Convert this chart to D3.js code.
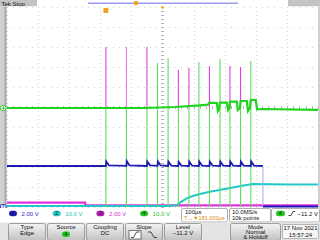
<!DOCTYPE html>
<html>
<head>
<meta charset="utf-8">
<script src="https://cdn.jsdelivr.net/npm/d3@7"></script>
<style>
body { margin: 0; background: #fff; overflow: hidden; }
svg { display: block; font-family: "Liberation Sans", "DejaVu Sans", sans-serif; }
</style>
</head>
<body>
<svg id="scope" width="320" height="240"></svg>
<script>

// time across the screen in µs (100 µs/div), levels in divisions above the bottom line
const pulse_times = [318, 384, 450, 484, 518, 551, 585, 617, 651, 685, 717, 751, 784]
const green_tops  = [null, null, null, 7.2, 7.45, null, null, 7.25, null, 7.4, null, null, 7.3]
const pink_tops   = [8.0, 8.0, 8.0, null, null, 6.85, 6.95, null, 7.05, null, 7.05, 7.0, null]

const ch4_trace = [[0,4.95],[444,4.95],[540,5.0],[620,5.08],[646,5.12],[651,5.22],[675,5.2],[678,4.8],
    [682,4.9],[685,5.22],[707,5.22],[711,4.85],[715,4.95],[717,5.27],[739,5.27],[742,4.85],[749,4.95],
    [751,5.3],[771,5.3],[775,4.8],[781,4.95],[784,5.35],[800,5.35],[804,4.88],[820,4.9],[1000,4.86]]

const ch1_trace = [[0,2.05],[318,2.05],[319,2.28],[328,2.08],[384,2.06],[385,2.3],[394,2.08],[450,2.05],
    [451,2.27],[460,2.08],[484,2.06],[485,2.28],[494,2.08],[518,2.05],[519,2.27],[528,2.07],[551,2.05],
    [552,2.25],[561,2.07],[585,2.05],[586,2.27],[595,2.07],[617,2.05],[618,2.28],[627,2.07],[651,2.05],
    [652,2.27],[661,2.07],[685,2.05],[686,2.27],[695,2.07],[717,2.05],[718,2.27],[727,2.07],[751,2.05],
    [752,2.27],[761,2.07],[784,2.05],[785,2.28],[794,2.07],[823,2.05]]
const ch1_after = [[823,0.03],[1000,0.03]]

const ch2_trace = [[0,0.05],[524,0.05],[546,0.1],[562,0.28],[578,0.43],[600,0.56],[621,0.65],[648,0.75],
    [674,0.82],[700,0.9],[727,0.98],[755,1.06],[781,1.13],[791,1.15],[900,1.13],[1000,1.12]]

const ch3_trace = [[0,0.22],[251,0.22],[252,0.08],[1000,0.08]]

const channels = [
    {num: "1", scale: "2.00 V", color: "#1c1cb4", text: "#2a2ac0"},
    {num: "2", scale: "10.0 V", color: "#22c8c8", text: "#22c0c0"},
    {num: "3", scale: "2.00 V", color: "#b020b0", text: "#d030d0"},
    {num: "4", scale: "10.0 V", color: "#1ec81e", text: "#1ec01e"}
]

const menu_buttons = [
    {x: 8, w: 38, lines: ["Type", "Edge"]},
    {x: 47, w: 38, lines: ["Source"]},
    {x: 86, w: 38, lines: ["Coupling", "DC"]},
    {x: 125, w: 38, lines: ["Slope"]},
    {x: 164, w: 38, lines: ["Level", "\u221211.2 V"]},
    {x: 230, w: 51, lines: ["Mode", "Normal", "& Holdoff"]}
]

const svg = d3.select("#scope")

const x = d3.scaleLinear().domain([0, 1000]).range([7, 318])
const y = d3.scaleLinear().domain([0, 10]).range([207, 7])

const line = d3.line().x(d => x(d[0])).y(d => y(d[1]))

// ---- top bar
svg.append("rect").attr("x", 0).attr("y", 0).attr("width", 320).attr("height", 6.5).attr("fill", "#fff")
svg.append("rect").attr("x", 0).attr("y", 0).attr("width", 37).attr("height", 6.5).attr("fill", "#c4c4c4")
svg.append("rect").attr("x", 288).attr("y", 0).attr("width", 32).attr("height", 6.5).attr("fill", "#c4c4c4")
svg.append("text").attr("x", 1.5).attr("y", 5.6).attr("font-size", 6).attr("fill", "#111")
    .text("Tek Stop")
svg.append("line").attr("x1", 88).attr("x2", 238).attr("y1", 3.2).attr("y2", 3.2)
    .attr("stroke", "#9c9cf0").attr("stroke-width", 1.4)
svg.append("rect").attr("x", 134).attr("y", 1).attr("width", 4).attr("height", 4).attr("rx", 1).attr("fill", "#f0a020")

// ---- graticule
svg.append("rect").attr("x", 7).attr("y", 6.5).attr("width", 311).attr("height", 201).attr("fill", "#fff")
svg.append("rect").attr("x", 0).attr("y", 6.5).attr("width", 6.5).attr("height", 202).attr("fill", "#cfcfcf")
svg.append("rect").attr("x", 4.5).attr("y", 6.5).attr("width", 2).attr("height", 202).attr("fill", "#a8a8a8")
svg.append("rect").attr("x", 318).attr("y", 6.5).attr("width", 2).attr("height", 202).attr("fill", "#cfcfcf")

const grid = svg.append("g").attr("id", "grid").attr("shape-rendering", "crispEdges")
d3.range(0, 11).forEach(i => {
    let gx = Math.round(x(i * 100)) + 0.5
    grid.append("line").attr("x1", gx).attr("x2", gx).attr("y1", y(10)).attr("y2", y(0))
        .attr("stroke", i == 5 ? "#b4b4b4" : "#d2d2d2").attr("stroke-width", 1).attr("stroke-dasharray", "1,3")
    let gy = Math.round(y(i)) + 0.5
    grid.append("line").attr("y1", gy).attr("y2", gy).attr("x1", x(0)).attr("x2", x(1000))
        .attr("stroke", i == 5 ? "#b4b4b4" : "#d2d2d2").attr("stroke-width", 1).attr("stroke-dasharray", "1,5.22")
})
// centre cross ticks
d3.range(0, 51).forEach(i => {
    let tx = Math.round(x(i * 20)) + 0.5
    grid.append("line").attr("x1", tx).attr("x2", tx).attr("y1", y(5) - 1.5).attr("y2", y(5) + 1.5)
        .attr("stroke", "#b4b4b4")
    let ty = Math.round(y(i * 0.2)) + 0.5
    grid.append("line").attr("y1", ty).attr("y2", ty).attr("x1", x(500) - 1.5).attr("x2", x(500) + 1.5)
        .attr("stroke", "#b4b4b4")
})

// ---- traces
const traces = svg.append("g").attr("id", "traces")

traces.append("path").datum(ch3_trace).attr("d", line)
    .attr("fill", "none").attr("stroke", "#e030e0").attr("stroke-width", 2.2)

// magenta spikes only show above the green baseline
pulse_times.forEach((t, i) => {
    if (pink_tops[i] !== null) {
        traces.append("line").attr("x1", x(t)).attr("x2", x(t)).attr("y1", y(4.95)).attr("y2", y(pink_tops[i]))
            .attr("stroke", i == 1 ? "#f07cf0" : "#e040e0").attr("stroke-width", 1.1)
    }
})

traces.append("path").datum(ch2_trace).attr("d", line)
    .attr("fill", "none").attr("stroke", "#22c8c8").attr("stroke-width", 2)

pulse_times.forEach((t, i) => {
    let top = green_tops[i] !== null ? green_tops[i] : 4.95
    traces.append("line").attr("x1", x(t)).attr("x2", x(t)).attr("y1", y(0)).attr("y2", y(top))
        .attr("stroke", "#5edc5e").attr("stroke-width", 1.1)
})

traces.append("path").datum(ch4_trace).attr("d", line)
    .attr("fill", "none").attr("stroke", "#1ed41e").attr("stroke-width", 2.2)

traces.append("path").datum(ch1_trace).attr("d", line)
    .attr("fill", "none").attr("stroke", "#1c1cb4").attr("stroke-width", 1.8)
traces.append("line").attr("x1", x(823)).attr("x2", x(823)).attr("y1", y(2.05)).attr("y2", y(0.03))
    .attr("stroke", "#a8a8f0").attr("stroke-width", 1)
traces.append("path").datum(ch1_after).attr("d", line)
    .attr("fill", "none").attr("stroke", "#1c1cb4").attr("stroke-width", 2)

// trigger position / expansion markers
svg.append("rect").attr("x", x(318) - 2.5).attr("y", 8).attr("width", 5).attr("height", 5).attr("rx", 1.2)
    .attr("fill", "#f0a020")
svg.append("path").attr("d", `M${x(500) - 2},6.5 L${x(500) + 2},6.5 L${x(500)},9.5 Z`).attr("fill", "#f0a020")

// ground markers
svg.append("circle").attr("cx", 3.2).attr("cy", y(4.95)).attr("r", 2.8)
    .attr("fill", "#e8ffe8").attr("stroke", "#1ec81e").attr("stroke-width", 0.8)
svg.append("text").attr("x", 3.2).attr("y", y(4.95) + 1.6).attr("font-size", 4.5).attr("text-anchor", "middle")
    .attr("fill", "#117711").text("4")
svg.append("rect").attr("x", 0.5).attr("y", y(0) - 2.5).attr("width", 5.5).attr("height", 5).attr("rx", 1)
    .attr("fill", "#dde0ff").attr("stroke", "#1c1cb4").attr("stroke-width", 0.8)
svg.append("text").attr("x", 3.2).attr("y", y(0) + 1.6).attr("font-size", 4.5).attr("text-anchor", "middle")
    .attr("fill", "#1c1cb4").text("1")

// ---- readout row
const readout = svg.append("g").attr("id", "readout").attr("font-size", 6)
readout.append("rect").attr("x", 0).attr("y", 208).attr("width", 320).attr("height", 15).attr("fill", "#fff")

channels.forEach((c, i) => {
    let bx = 9 + i * 43.7
    readout.append("rect").attr("x", bx).attr("y", 210.8).attr("width", 8).attr("height", 5.4).attr("rx", 2.7)
        .attr("fill", c.color)
    readout.append("text").attr("x", bx + 4).attr("y", 215.4).attr("text-anchor", "middle").attr("font-size", 5)
        .attr("fill", "#111").text(c.num)
    readout.append("text").attr("x", bx + 12.5).attr("y", 215.6).attr("fill", c.text).text(c.scale)
})

const boxes = [[181, 47], [229, 42], [271, 49]]
boxes.forEach(b => {
    readout.append("rect").attr("x", b[0] + 0.5).attr("y", 208.5).attr("width", b[1] - 1).attr("height", 13.5)
        .attr("rx", 1.5).attr("fill", "#fff").attr("stroke", "#9a9a9a").attr("stroke-width", 0.8)
})
readout.append("text").attr("x", 185).attr("y", 214.3).attr("fill", "#111").text("100\u00b5s")
readout.append("text").attr("x", 184).attr("y", 220.3).attr("fill", "#e08a10").attr("font-size", 5.6)
    .text("T\u2192\u25bc181.000\u00b5s")
readout.append("text").attr("x", 232).attr("y", 214.3).attr("fill", "#111").text("10.0MS/s")
readout.append("text").attr("x", 232).attr("y", 220.3).attr("fill", "#111").text("10k points")
readout.append("rect").attr("x", 276).attr("y", 210.8).attr("width", 9).attr("height", 5.4).attr("rx", 2.7)
    .attr("fill", "#1ec81e")
readout.append("text").attr("x", 280.5).attr("y", 215.4).attr("text-anchor", "middle").attr("font-size", 5)
    .attr("fill", "#111").text("4")
readout.append("path").attr("d", "M288.5,215.5 L291,215.5 L293,211.5 L295,211.5")
    .attr("fill", "none").attr("stroke", "#111").attr("stroke-width", 0.8)
readout.append("text").attr("x", 318).attr("y", 215.6).attr("text-anchor", "end").attr("fill", "#111")
    .text("\u221211.2 V")

// ---- menu row
const menu = svg.append("g").attr("id", "menu").attr("font-size", 6)
menu.append("rect").attr("x", 0).attr("y", 222.5).attr("width", 320).attr("height", 17.5).attr("fill", "#e4e4e4")

const grad = svg.append("defs").append("linearGradient").attr("id", "btn").attr("x1", 0).attr("x2", 0).attr("y1", 0).attr("y2", 1)
grad.append("stop").attr("offset", "0%").attr("stop-color", "#f4f4f4")
grad.append("stop").attr("offset", "100%").attr("stop-color", "#c2c2c2")

menu_buttons.forEach(b => {
    menu.append("rect").attr("x", b.x + 0.5).attr("y", 223.5).attr("width", b.w - 1).attr("height", 17).attr("rx", 2)
        .attr("fill", "url(#btn)").attr("stroke", "#8a8a8a").attr("stroke-width", 0.8)
    let top = b.lines.length == 3 ? 228.6 : 229.4
    let step = b.lines.length == 3 ? 5.4 : 6
    b.lines.forEach((l, j) => {
        menu.append("text").attr("x", b.x + b.w / 2).attr("y", top + j * step).attr("text-anchor", "middle")
            .attr("fill", "#111").text(l)
    })
})

// source badge
menu.append("rect").attr("x", 62).attr("y", 231.5).attr("width", 8).attr("height", 5.4).attr("rx", 2.7).attr("fill", "#1ec81e")
menu.append("text").attr("x", 66).attr("y", 236.1).attr("text-anchor", "middle").attr("font-size", 5).attr("fill", "#111").text("4")

// slope icons
menu.append("rect").attr("x", 129).attr("y", 230.5).attr("width", 12).attr("height", 8.5).attr("fill", "#fff")
    .attr("stroke", "#444").attr("stroke-width", 0.7)
menu.append("path").attr("d", "M131,237.5 L133.5,237.5 L136.5,232 L139.5,232")
    .attr("fill", "none").attr("stroke", "#222").attr("stroke-width", 0.8)
menu.append("path").attr("d", "M148,232 L151,232 L154,237.5 L157,237.5")
    .attr("fill", "none").attr("stroke", "#222").attr("stroke-width", 0.8)

// date
menu.append("rect").attr("x", 282.5).attr("y", 224.5).attr("width", 36).attr("height", 14).attr("rx", 1)
    .attr("fill", "#f6f6f6").attr("stroke", "#9a9a9a").attr("stroke-width", 0.7)
menu.append("text").attr("x", 300.5).attr("y", 230.4).attr("text-anchor", "middle").attr("fill", "#111").text("17 Nov 2021")
menu.append("text").attr("x", 300.5).attr("y", 236.6).attr("text-anchor", "middle").attr("fill", "#111").text("15:57:24")

</script>
</body>
</html>
